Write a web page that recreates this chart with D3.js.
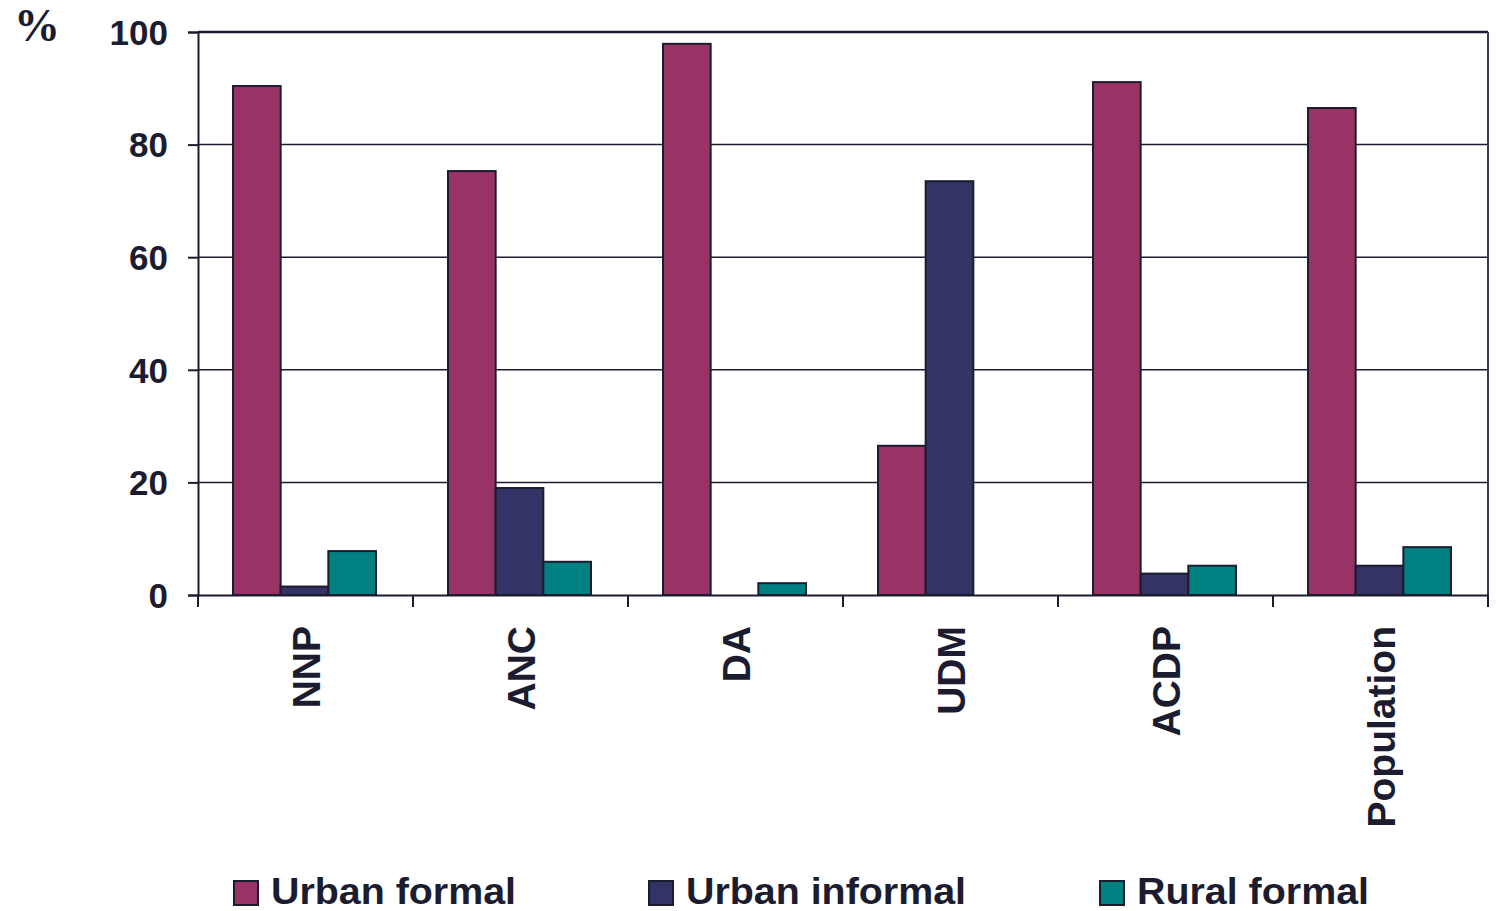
<!DOCTYPE html>
<html><head><meta charset="utf-8">
<script src="https://cdn.jsdelivr.net/npm/d3@7"></script>
<style>body{margin:0;background:#fff;}svg{display:block;}</style>
</head><body>
<script>
const categories = ["NNP","ANC","DA","UDM","ACDP","Population"];
const seriesNames = ["Urban formal","Urban informal","Rural formal"];
const urbanFormal = [90.4, 75.3, 97.9, 26.5, 91.1, 86.5];
const urbanInformal = [1.5, 19.0, 0, 73.5, 3.8, 5.2];
const ruralFormal = [7.8, 5.9, 2.1, 0, 5.2, 8.5];
const yTicks = [0,20,40,60,80,100];
const colors = ["#993366","#333366","#008080"];
const series = [urbanFormal, urbanInformal, ruralFormal];

(function(){
const W=1496,H=911;
const svg=d3.select("body").append("svg").attr("width",W).attr("height",H);
const mL=198,mR=1488,mT=32,mB=595;
const ink="#1c1c30";
const x=d3.scaleBand().domain(categories).range([mL,mR]).paddingInner(0).paddingOuter(0);
const y=d3.scaleLinear().domain([0,100]).range([mB,mT]);
const xs=d3.scaleBand().domain(d3.range(3)).range([35,178]).padding(0);

// gridlines
svg.append("g").selectAll("line").data(yTicks.filter(d=>d>0)).join("line")
 .attr("x1",mL).attr("x2",mR).attr("y1",d=>y(d)).attr("y2",d=>y(d))
 .attr("stroke",ink).attr("stroke-width",d=>d===100?2.5:1.5);
// right border
svg.append("line").attr("x1",mR).attr("x2",mR).attr("y1",mT).attr("y2",mB).attr("stroke","#3a3a55").attr("stroke-width",2);

// bars
const g=svg.append("g");
categories.forEach((c,i)=>{
  series.forEach((s,j)=>{
    if(s[i]<=0) return;
    g.append("rect").attr("x",x(c)+xs(j)).attr("width",xs.bandwidth())
     .attr("y",y(s[i])).attr("height",y(0)-y(s[i]))
     .attr("fill",colors[j]).attr("stroke",ink).attr("stroke-width",2);
  });
});

// y axis
const ya=svg.append("g").attr("transform",`translate(${mL},0)`)
 .call(d3.axisLeft(y).tickValues(yTicks).tickSize(10).tickPadding(20));
ya.select(".domain").attr("stroke",ink).attr("stroke-width",2);
ya.selectAll(".tick line").attr("stroke",ink).attr("stroke-width",2);
ya.selectAll("text").attr("fill",ink).style("font-family","Liberation Sans, Arial, sans-serif")
 .style("font-weight","bold").style("font-size","35px").attr("dy","0.35em");

// x axis
const xa=svg.append("g").attr("transform",`translate(0,${mB})`)
 .call(d3.axisBottom(x).tickSize(0).tickFormat(""));
xa.select(".domain").attr("stroke",ink).attr("stroke-width",2);
const tickPos=d3.range(categories.length+1).map(i=>mL+i*x.step());
svg.append("g").selectAll("line").data(tickPos).join("line")
 .attr("x1",d=>d).attr("x2",d=>d).attr("y1",mB).attr("y2",mB+12)
 .attr("stroke",ink).attr("stroke-width",2);
svg.append("g").selectAll("text").data(categories).join("text")
 .attr("transform",d=>`translate(${x(d)+x.bandwidth()/2+14},${mB+31}) rotate(-90)`)
 .attr("text-anchor","end").attr("fill",ink)
 .style("font-family","Liberation Sans, Arial, sans-serif").style("font-weight","bold").style("font-size","39px")
 .text(d=>d);

// % label
svg.append("text").attr("x",14).attr("y",41).attr("fill",ink)
 .style("font-family","Liberation Serif, Times New Roman, serif").style("font-weight","bold").style("font-size","46px").text("%");

// legend
const legX=[234,649,1100];
const lg=svg.append("g");
seriesNames.forEach((n,j)=>{
  lg.append("rect").attr("x",legX[j]).attr("y",881).attr("width",24).attr("height",24)
   .attr("fill",colors[j]).attr("stroke",ink).attr("stroke-width",2);
  lg.append("text").attr("x",legX[j]+37).attr("y",904).attr("fill",ink)
   .style("font-family","Liberation Sans, Arial, sans-serif").style("font-weight","bold").style("font-size","37px")
   .attr("textLength",[245,280,232][j]).attr("lengthAdjust","spacingAndGlyphs").text(n);
});
})();
</script>
</body></html>
